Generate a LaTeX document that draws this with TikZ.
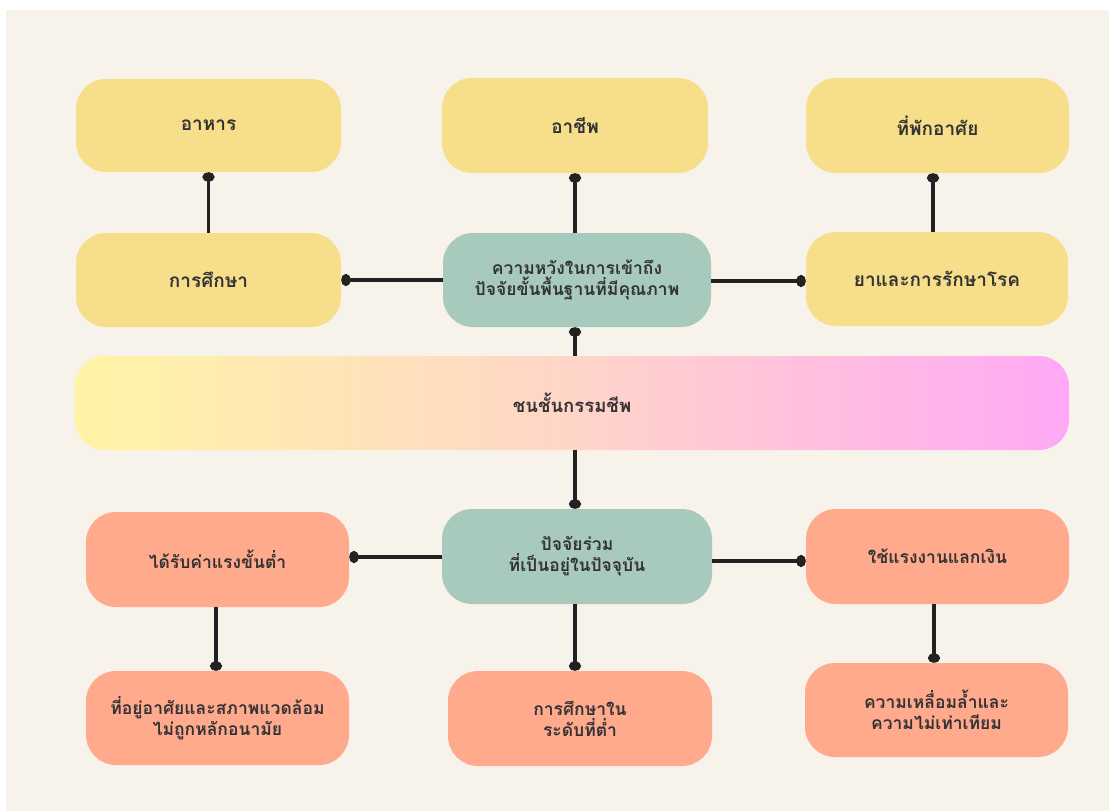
\documentclass[tikz,border=0pt]{standalone}
\usepackage{fontspec}
\newfontfamily\thaifont[Script=Thai]{Loma}
\usetikzlibrary{arrows.meta}
\definecolor{bgbeige}{HTML}{F7F3EA}
\definecolor{boxyellow}{HTML}{F7DE8A}
\definecolor{boxgreen}{HTML}{A8CABC}
\definecolor{boxsalmon}{HTML}{FFA98D}
\definecolor{gradL}{HTML}{FFF5A5}
\definecolor{gradM}{HTML}{FFD5C8}
\definecolor{gradR}{HTML}{FFA8F6}
\definecolor{txtgrey}{HTML}{333333}
\definecolor{linegrey}{HTML}{222222}
\tikzset{
  box/.style={rectangle, rounded corners=30pt, draw=none, minimum width=265pt, minimum height=94pt,
    inner sep=0pt, align=center, text=txtgrey, font=\thaifont\bfseries\fontsize{17.5}{21}\selectfont},
  ybox/.style={box, fill=boxyellow, font=\thaifont\bfseries\fontsize{19}{22}\selectfont},
  gbox/.style={box, fill=boxgreen},
  sbox/.style={box, fill=boxsalmon},
  conn/.style={draw=linegrey, line width=3.2pt, -{Circle[length=9.5pt,width=12pt]}},
}
\begin{document}
\begin{tikzpicture}[x=1pt,y=-1pt]
\useasboundingbox (0,0) rectangle (1109,811);
\fill[white] (0,0) rectangle (1109,811);
\fill[bgbeige] (6,10) rectangle (1109,811);

% top rows
\node[ybox, minimum width=265pt, minimum height=93pt] (food) at (208.5,125.5) {อาหาร};
\node[ybox] (edu) at (208.5,280) {การศึกษา};
\node[ybox, minimum width=266pt, minimum height=95pt] (job) at (575,125.5) {อาชีพ};
\node[gbox, minimum width=268pt] (hope) at (577,280) {ความหวังในการเข้าถึง\\ปัจจัยขั้นพื้นฐานที่มีคุณภาพ};
\node[ybox, minimum width=263pt, minimum height=95pt] (house) at (937.5,125.5) {ที่พักอาศัย};
\node[ybox, minimum width=262pt] (med) at (937,279) {ยาและการรักษาโรค};

% band
\node[box, minimum width=994pt, left color=gradL, right color=gradR, middle color=gradM,
  font=\thaifont\bfseries\fontsize{18.5}{22}\selectfont] (band) at (572,403) {ชนชั้นกรรมชีพ};

% bottom rows
\node[sbox, minimum width=263pt, minimum height=95pt] (wage) at (217.5,559.5) {ได้รับค่าแรงขั้นต่ำ};
\node[sbox, minimum width=263pt] (home) at (217.5,718) {ที่อยู่อาศัยและสภาพแวดล้อม\\ไม่ถูกหลักอนามัย};
\node[gbox, minimum width=270pt, minimum height=95pt] (factor) at (577,556.5) {ปัจจัยร่วม\\ที่เป็นอยู่ในปัจจุบัน};
\node[sbox, minimum width=264pt, minimum height=95pt] (lowedu) at (580,718.5) {การศึกษาใน\\ระดับที่ต่ำ};
\node[sbox, minimum width=263pt, minimum height=95pt] (sell) at (937.5,556.5) {ใช้แรงงานแลกเงิน};
\node[sbox, minimum width=263pt] (ineq) at (936.5,710) {ความเหลื่อมล้ำและ\\ความไม่เท่าเทียม};

% connectors
\coordinate (jobx) at (575,0);
\coordinate (housex) at (933,0);
\coordinate (wagex) at (216,0);
\coordinate (sellx) at (934,0);
\coordinate (y557) at (0,557);
\coordinate (y561) at (0,561);
\coordinate (y281) at (0,281);
\draw[conn] (food.south |- edu.north) -- (food.south);
\draw[conn] (jobx |- hope.north) -- (jobx |- job.south);
\draw[conn] (housex |- med.north) -- (housex |- house.south);
\draw[conn] (hope.west) -- (edu.east);
\draw[conn] (hope.east |- y281) -- (med.west |- y281);
\draw[conn] (jobx |- band.north) -- (jobx |- hope.south);
\draw[conn] (jobx |- band.south) -- (jobx |- factor.north);
\draw[conn] (factor.west |- y557) -- (wage.east |- y557);
\draw[conn] (factor.east |- y561) -- (sell.west |- y561);
\draw[conn] (wagex |- wage.south) -- (wagex |- home.north);
\draw[conn] (jobx |- factor.south) -- (jobx |- lowedu.north);
\draw[conn] (sellx |- sell.south) -- (sellx |- ineq.north);
\end{tikzpicture}
\end{document}
